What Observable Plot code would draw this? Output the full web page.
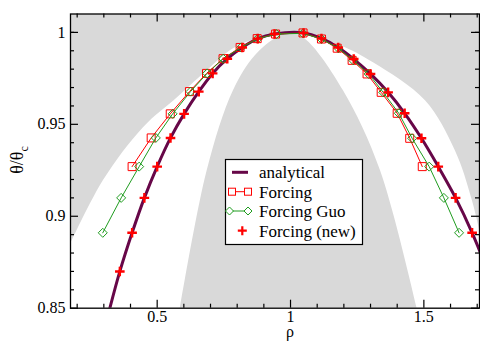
<!DOCTYPE html>
<html><head><meta charset="utf-8">
<script src="https://cdn.jsdelivr.net/npm/d3@7"></script>
<script src="https://cdn.jsdelivr.net/npm/@observablehq/plot@0.6"></script>
<style>
body{margin:0;background:#fff;}
#wrap{position:relative;width:480px;height:341px;}
#legend{position:absolute;left:0;top:0;pointer-events:none;}
svg text{font-family:"Liberation Serif","Times New Roman","DejaVu Serif",serif;}
</style></head><body><div id="wrap"></div>
<script>
// ---- data ----
const analyticalRho   = [0.3225,0.360,0.406,0.452,0.500,0.550,0.601,0.656,0.708,0.763,0.819,0.877,0.940,1.049,1.116,1.179,1.237,1.300,1.366,1.428,1.491,1.554,1.619,1.681,1.740];
const analyticalTheta = [0.850,0.870,0.891,0.910,0.927,0.9426,0.9557,0.9678,0.9777,0.9857,0.9918,0.9966,0.9991,0.9997,0.9967,0.9918,0.9855,0.9774,0.9674,0.956,0.9424,0.927,0.910,0.891,0.870];

const newRho   = [0.360,0.406,0.452,0.500,0.550,0.601,0.656,0.708,0.763,0.819,0.877,0.940,1.049,1.116,1.179,1.237,1.300,1.366,1.428,1.491,1.554,1.619,1.681];
const newTheta = [0.870,0.891,0.910,0.927,0.9426,0.9557,0.9678,0.9777,0.9857,0.9918,0.9966,0.9991,0.9997,0.9967,0.9918,0.9855,0.9774,0.9674,0.956,0.9424,0.927,0.910,0.891];

const forcingRho   = [0.406,0.4775,0.549,0.621,0.685,0.747,0.811,0.875,0.944,1.047,1.116,1.175,1.231,1.287,1.340,1.400,1.447,1.494];
const forcingTheta = [0.927,0.9426,0.9557,0.9678,0.9777,0.9857,0.9918,0.9966,0.9991,0.9997,0.9964,0.9914,0.9848,0.9774,0.9674,0.956,0.9424,0.927];

const guoRho   = [0.296,0.365,0.4325,0.495,0.558,0.625,0.6875,0.7475,0.815,0.877,0.947,1.047,1.116,1.179,1.235,1.293,1.3475,1.406,1.456,1.52,1.575,1.632];
const guoTheta = [0.891,0.910,0.927,0.9426,0.9557,0.9678,0.9777,0.9857,0.9918,0.9966,0.9991,0.9995,0.9964,0.9914,0.9848,0.9774,0.9674,0.956,0.9424,0.927,0.910,0.891];

// shaded background bounds
const outerRho   = [0.16,0.2986,0.4486,0.576,0.700,0.786,0.914,1.019,1.1875,1.311,1.506,1.618,1.682,1.725];
const outerTheta = [0.880,0.9194,0.9482,0.9645,0.9808,0.9911,0.9982,1.0001,0.9928,0.9835,0.9628,0.9356,0.9084,0.882];
const innerRho   = [0.575,0.6875,0.786,0.868,0.950,1.007,1.0625,1.1985,1.3375,1.490];
const innerTheta = [0.840,0.9248,0.9683,0.9873,0.9971,0.9996,0.9955,0.9683,0.9248,0.840];

const xMajor = [0.5,1,1.5];
const xMinor = [0.2,0.3,0.4,0.6,0.7,0.8,0.9,1.1,1.2,1.3,1.4,1.6,1.7];
const yMajor = [0.85,0.9,0.95,1];
const yMinor = [0.86,0.87,0.88,0.89,0.91,0.92,0.93,0.94,0.96,0.97,0.98,0.99,1.0];

const seriesNames = ["analytical","Forcing","Forcing Guo","Forcing (new)"];

// ---- helpers ----
const rows = (xs, ys) => xs.map((x, i) => ({x, y: ys[i]}));
const symSquare = {draw(c, size){const r=Math.sqrt(size/Math.PI);c.moveTo(-r,-r);c.lineTo(r,-r);c.lineTo(r,r);c.lineTo(-r,r);c.closePath();}};
const symDiamond = {draw(c, size){const r=Math.sqrt(size/Math.PI);c.moveTo(0,-r);c.lineTo(r,0);c.lineTo(0,r);c.lineTo(-r,0);c.closePath();}};
const symPlus = {draw(c, size){const r=Math.sqrt(size/Math.PI);c.moveTo(-r,0);c.lineTo(r,0);c.moveTo(0,-r);c.lineTo(0,r);}};

const FONT = '"Liberation Serif","Times New Roman","DejaVu Serif",serif';
const GRAY = "#d9d9d9", PURPLE = "#670748", RED = "#ff0000", GREEN = "#1f9c1f";
const W = 480, H = 341, mL = 70, mR = 1, mT = 13.5, mB = 33.3;
const pw = W - mL - mR, ph = H - mT - mB;

const svg = Plot.plot({
  width: W, height: H,
  marginLeft: mL, marginRight: mR, marginTop: mT, marginBottom: mB,
  x: {domain: [0.175, 1.7086], ticks: xMajor, tickSize: 0, tickPadding: 2, tickFormat: d => String(d), label: null},
  y: {domain: [0.85, 1.01], ticks: yMajor, tickSize: 0, tickPadding: 5, tickFormat: d => String(d), label: null},
  style: {fontFamily: FONT, fontSize: "16px", color: "black", background: "white"},
  marks: [
    Plot.frame({fill: GRAY}),
    Plot.areaY(rows(outerRho, outerTheta), {x: "x", y1: 0.80, y2: "y", fill: "white", curve: "catmull-rom", clip: true}),
    Plot.areaY(rows(innerRho, innerTheta), {x: "x", y1: 0.80, y2: "y", fill: GRAY, curve: "catmull-rom", clip: true}),
    Plot.line(rows(analyticalRho, analyticalTheta), {x: "x", y: "y", stroke: PURPLE, strokeWidth: 3, curve: "catmull-rom", clip: true}),
    Plot.line(rows(forcingRho, forcingTheta), {x: "x", y: "y", stroke: RED, strokeWidth: 1, clip: true}),
    Plot.dot(rows(forcingRho, forcingTheta), {x: "x", y: "y", symbol: symSquare, r: 4, stroke: RED, fill: "none", strokeWidth: 1, clip: true}),
    Plot.line(rows(guoRho, guoTheta), {x: "x", y: "y", stroke: GREEN, strokeWidth: 1, clip: true}),
    Plot.dot(rows(guoRho, guoTheta), {x: "x", y: "y", symbol: symDiamond, r: 4.5, stroke: GREEN, fill: "none", strokeWidth: 1, clip: true}),
    Plot.dot(rows(newRho, newTheta), {x: "x", y: "y", symbol: symPlus, r: 4.8, stroke: RED, strokeWidth: 2.4, clip: true}),
    // inward ticks on all four sides
    Plot.tickX(xMajor, {x: d => d, insetTop: ph - 8, stroke: "black", strokeWidth: 1.2}),
    Plot.tickX(xMinor, {x: d => d, insetTop: ph - 4, stroke: "black", strokeWidth: 1.2}),
    Plot.tickX(xMajor, {x: d => d, insetBottom: ph - 8, stroke: "black", strokeWidth: 1.2}),
    Plot.tickX(xMinor, {x: d => d, insetBottom: ph - 4, stroke: "black", strokeWidth: 1.2}),
    Plot.tickY(yMajor, {y: d => d, insetRight: pw - 8, stroke: "black", strokeWidth: 1.2}),
    Plot.tickY(yMinor, {y: d => d, insetRight: pw - 4, stroke: "black", strokeWidth: 1.2}),
    Plot.tickY(yMajor, {y: d => d, insetLeft: pw - 8, stroke: "black", strokeWidth: 1.2}),
    Plot.tickY(yMinor, {y: d => d, insetLeft: pw - 4, stroke: "black", strokeWidth: 1.2}),
    Plot.frame({stroke: "black", strokeWidth: 1.3})
  ]
});
document.getElementById("wrap").appendChild(svg);

// axis titles
const s = d3.select(svg);
s.append("text").attr("x", 290).attr("y", 337).attr("text-anchor", "middle")
  .style("font-family", FONT).style("font-size", "16px").text("ρ");
const yt = s.append("text").attr("transform", "translate(23,160) rotate(-90)").attr("text-anchor", "middle")
  .style("font-family", FONT).style("font-size", "18px");
yt.append("tspan").text("θ/θ");
yt.append("tspan").attr("dy", 5).style("font-size", "12px").text("c");

// legend overlay
const lg = d3.select("#wrap").append("svg").attr("id", "legend").attr("width", W).attr("height", H);
lg.append("rect").attr("x", 225.5).attr("y", 159.5).attr("width", 137).attr("height", 85)
  .attr("fill", "white").attr("stroke", "black").attr("stroke-width", 1.2);
const ly = [172.3, 191.7, 211, 230.7];
const tx = 259;
lg.append("line").attr("x1", 232).attr("x2", 248).attr("y1", ly[0]).attr("y2", ly[0]).attr("stroke", PURPLE).attr("stroke-width", 3);
lg.append("line").attr("x1", 232).attr("x2", 248).attr("y1", ly[1]).attr("y2", ly[1]).attr("stroke", RED).attr("stroke-width", 1);
[232, 248].forEach(x => lg.append("rect").attr("x", x - 3.5).attr("y", ly[1] - 3.5).attr("width", 7).attr("height", 7).attr("fill", "white").attr("stroke", RED));
lg.append("line").attr("x1", 229.5).attr("x2", 248).attr("y1", ly[2]).attr("y2", ly[2]).attr("stroke", GREEN).attr("stroke-width", 1);
[229.5, 248].forEach(x => lg.append("path").attr("d", `M${x},${ly[2]-4}L${x+4},${ly[2]}L${x},${ly[2]+4}L${x-4},${ly[2]}Z`).attr("fill", "white").attr("stroke", GREEN));
lg.append("path").attr("d", `M${242.3-4.5},${ly[3]}H${242.3+4.5}M242.3,${ly[3]-4.5}V${ly[3]+4.5}`).attr("stroke", RED).attr("stroke-width", 2.2);
seriesNames.forEach((n, i) => lg.append("text").attr("x", tx).attr("y", ly[i] + 6)
  .style("font-family", FONT).style("font-size", "17px").text(n));
</script></body></html>
